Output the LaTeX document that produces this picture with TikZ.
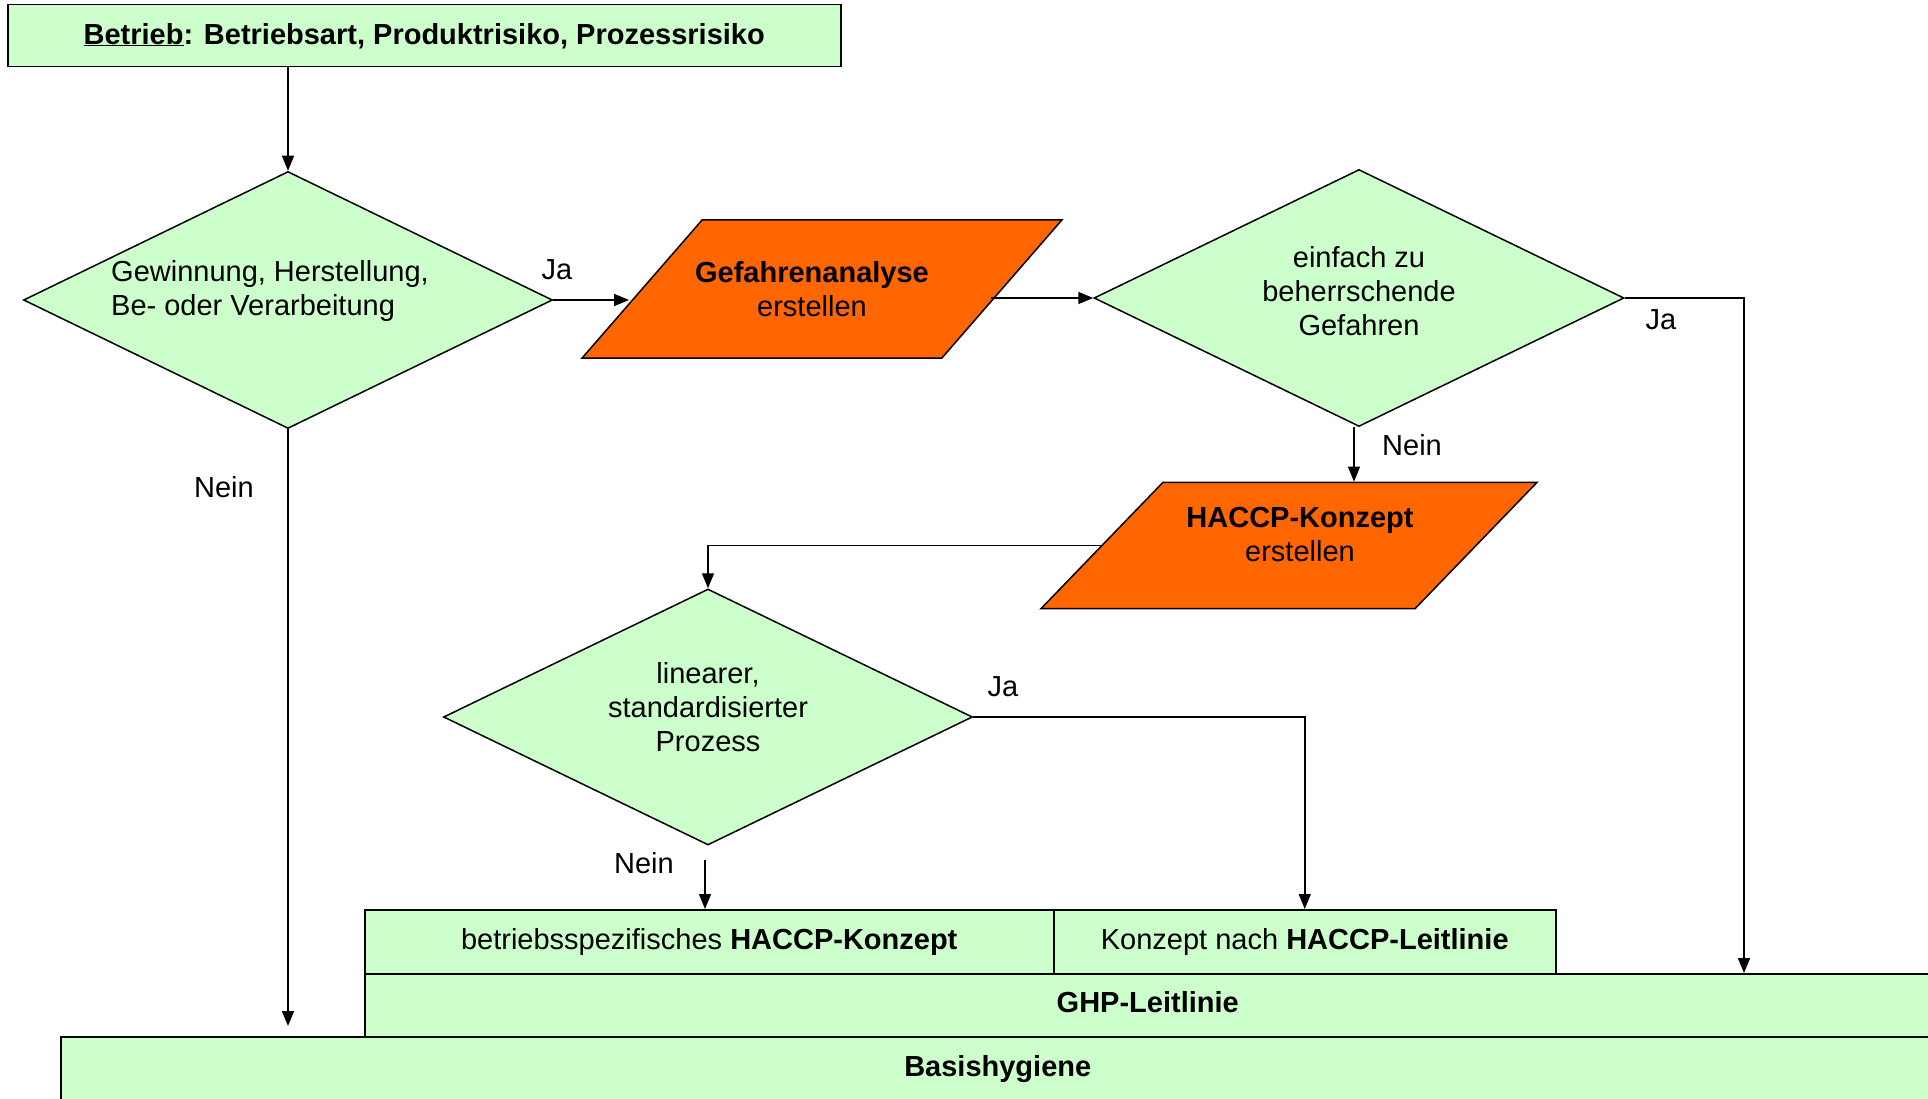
\documentclass[tikz,border=0pt]{standalone}
\usepackage{fontspec}
\setmainfont{Liberation Sans}
\usetikzlibrary{shapes.geometric, positioning, arrows.meta}
\definecolor{hellgruen}{HTML}{CCFFCC}
\definecolor{orangerot}{HTML}{FF6600}
\tikzset{
  kasten/.style={draw, fill=hellgruen, line width=1.5pt, inner sep=0pt, anchor=north west},
  raute/.style={draw, fill=hellgruen, diamond, aspect=2, line width=1.5pt, inner sep=0pt, align=center, text depth=18pt},
  parall/.style={draw, fill=orangerot, trapezium, trapezium stretches body, line width=1.5pt, inner xsep=0pt, align=center},
  pfeil/.style={-{Triangle[length=15pt, width=12pt]}, line width=1.5pt},
  linie/.style={line width=1.5pt}
}
\begin{document}
\begin{tikzpicture}[x=1pt, y=-1pt, font=\fontsize{29}{34}\selectfont]
    \useasboundingbox (0,0) rectangle (1928,1099);
    \node [kasten, minimum width=833pt, minimum height=62pt] (betrieb) at (7,4) {\textbf{\underline{Betrieb}: Betriebsart, Produktrisiko, Prozessrisiko}};
    \node [raute, minimum width=529pt, minimum height=257pt, align=left, text depth=24pt] (gewinnung) at (288,300) {Gewinnung, Herstellung,\hspace*{36pt}\\Be- oder Verarbeitung};
    \node [parall, trapezium left angle=49, trapezium right angle=131, minimum width=480pt, inner ysep=41.5pt] (analyse) at (822,289) {\hspace*{-20pt}\textbf{Gefahrenanalyse}\\\hspace*{-20pt}erstellen};
    \node [raute, minimum width=530pt, minimum height=257pt, text depth=15pt] (einfach) at (1359,298) {einfach zu\\beherrschende\\Gefahren};
    \node [parall, trapezium left angle=46, trapezium right angle=134, minimum width=496pt, inner ysep=24.5pt, text depth=23pt] (konzept) at (1289,545.5) {\hspace*{22pt}\textbf{HACCP-Konzept}\\\hspace*{22pt}erstellen};
    \node [raute, minimum width=529pt, minimum height=256pt, text depth=20pt] (linear) at (708,717) {linearer,\\standardisierter\\Prozess};
    \node [kasten, minimum width=689pt, minimum height=64pt] (spezifisch) at (364,909) {betriebsspezifisches \textbf{HACCP-Konzept}};
    \node [kasten, minimum width=502pt, minimum height=64pt] (leitlinie) at (1053,909) {Konzept nach \textbf{HACCP-Leitlinie}};
    \node [kasten, minimum width=1566pt, minimum height=63pt, text depth=7pt] (ghp) at (364,973) {\textbf{GHP-Leitlinie}};
    \node [kasten, minimum width=1874pt, minimum height=64pt] (basis) at (60,1036) {\textbf{Basishygiene}};
    \coordinate (jaende) at (1744,973);
    \draw [pfeil] (gewinnung.north |- betrieb.south) -- (gewinnung.north);
    \draw [pfeil, shorten >=12pt] (gewinnung.east) -- (gewinnung.east -| analyse.west);
    \draw [pfeil, shorten <=-12pt] (einfach.west -| analyse.east) -- (einfach.west);
    \draw [pfeil] (einfach.east) -| (jaende);
    \draw [pfeil] ([xshift=-5pt]einfach.south) -- ([xshift=-5pt]einfach.south |- konzept.north);
    \draw [pfeil] (konzept.west) -| (linear.north);
    \draw [pfeil] (linear.east) -| (leitlinie.north);
    \draw [pfeil, shorten <=14pt] ([xshift=-3pt]linear.south) -- ([xshift=-3pt]linear.south |- spezifisch.north);
    \draw [pfeil, shorten >=10pt] (gewinnung.south) -- (gewinnung.south |- basis.north);
    \node (ja1) at (557,270) {Ja};
    \node (ja2) at (1661,320) {Ja};
    \node (ja3) at (1003,687) {Ja};
    \node (nein1) at (224,487) {Nein};
    \node (nein2) at (1412,445) {Nein};
    \node (nein3) at (644,863) {Nein};
\end{tikzpicture}
\end{document}
